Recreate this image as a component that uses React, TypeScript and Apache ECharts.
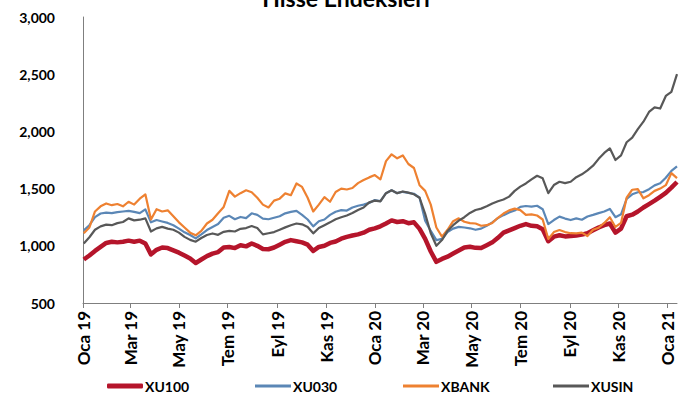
import React, { useEffect, useRef } from "react";
import * as echarts from "echarts";

const TITLE = "Hisse Endeksleri";
const MONTHS_TR = ["Oca", "Şub", "Mar", "Nis", "May", "Haz", "Tem", "Ağu", "Eyl", "Eki", "Kas", "Ara"];
const AXIS_START = "2019-01-01";
const AXIS_END = "2021-01-13";
const TICK_DATES = [
  "2019-01-01", "2019-03-01", "2019-05-01", "2019-07-01", "2019-09-01", "2019-11-01",
  "2020-01-01", "2020-03-01", "2020-05-01", "2020-07-01", "2020-09-01", "2020-11-01",
  "2021-01-01",
];
const FIRST_OBS = "2019-01-02"; // weekly observations from this date
const STEP_DAYS = 7;

const SERIES_NAMES = ["XU100", "XU030", "XBANK", "XUSIN"];

const xu100 = [
  880, 915, 955, 990, 1025, 1035, 1030, 1035, 1045, 1035, 1045, 1020, 925, 965, 985, 980, 960, 940, 915, 890,
  850, 880, 910, 932, 945, 985, 990, 980, 1005, 995, 1020, 1000, 972, 970, 985, 1010, 1035, 1050, 1040, 1030,
  1010, 955, 990, 1000, 1025, 1038, 1062, 1078, 1090, 1100, 1115, 1140, 1152, 1170, 1195, 1222, 1208, 1215, 1198, 1205,
  1148, 1060, 950, 860, 885, 905, 932, 958, 985, 992, 982, 980, 1005, 1030, 1070, 1115, 1135, 1155, 1175, 1190,
  1175, 1170, 1145, 1040, 1080, 1092, 1082, 1085, 1090, 1098, 1110, 1135, 1160, 1180, 1195, 1115, 1150, 1258, 1272, 1300,
  1335, 1365, 1395, 1428, 1462, 1508, 1558,
];
const xu030 = [
  1135, 1180, 1250, 1282, 1290, 1285, 1295, 1300, 1305, 1296, 1285, 1318, 1205, 1225, 1212, 1200, 1180, 1150, 1118, 1094,
  1065, 1100, 1138, 1165, 1190, 1245, 1262, 1232, 1252, 1242, 1284, 1270, 1238, 1232, 1245, 1258, 1284, 1296, 1305, 1270,
  1230, 1170, 1215, 1230, 1270, 1298, 1312, 1308, 1335, 1350, 1360, 1375, 1400, 1390, 1460, 1485, 1460, 1472, 1462, 1455,
  1420, 1220, 1130, 1050, 1060, 1120, 1150, 1165, 1160, 1153, 1140, 1150, 1175, 1205, 1242, 1268, 1292, 1308, 1340, 1348,
  1342, 1350, 1320, 1190, 1225, 1255, 1238, 1225, 1240, 1228, 1256, 1270, 1286, 1300, 1322, 1250, 1275, 1410, 1450, 1468,
  1470, 1495, 1528, 1546, 1595, 1655, 1695,
];
const xbank = [
  1110, 1160, 1300, 1345, 1370, 1355, 1365, 1345, 1385, 1360, 1412, 1450, 1230, 1320, 1300, 1310, 1258, 1205, 1160, 1115,
  1092, 1130, 1195, 1228, 1285, 1340, 1480, 1430, 1460, 1485, 1468, 1420, 1360, 1335, 1395, 1412, 1458, 1442, 1545, 1515,
  1420, 1300, 1360, 1425, 1385, 1470, 1500, 1492, 1505, 1548, 1575, 1598, 1618, 1580, 1740, 1800, 1765, 1790, 1715, 1680,
  1530, 1480, 1360, 1160, 1080, 1140, 1215, 1240, 1210, 1198, 1195, 1175, 1180, 1200, 1245, 1282, 1310, 1325, 1312, 1270,
  1275, 1265, 1230, 1060, 1120, 1138, 1120, 1110, 1108, 1115, 1085, 1140, 1158, 1200, 1250, 1165, 1200, 1420, 1490, 1495,
  1415, 1442, 1480, 1500, 1530, 1635, 1592,
];
const xusin = [
  1020, 1075, 1140, 1170, 1185, 1180, 1198, 1208, 1240, 1222, 1228, 1240, 1125, 1152, 1165, 1150, 1140, 1115, 1078, 1052,
  1036, 1068, 1094, 1108, 1096, 1122, 1130, 1125, 1148, 1155, 1173, 1155, 1100, 1110, 1120, 1140, 1161, 1180, 1195, 1188,
  1165, 1109, 1155, 1180, 1205, 1232, 1250, 1265, 1286, 1313, 1335, 1380, 1395, 1388, 1460, 1485, 1460, 1475, 1465, 1450,
  1420, 1280, 1110, 1000, 1050, 1130, 1180, 1220, 1250, 1287, 1313, 1325, 1345, 1370, 1390, 1405, 1430, 1480, 1517, 1545,
  1580, 1612, 1590, 1460, 1531, 1560, 1548, 1560, 1600, 1625, 1660, 1700, 1760, 1812, 1852, 1750, 1790, 1905, 1945, 2020,
  2085, 2170, 2210, 2200, 2310, 2345, 2500,
];

const COLORS = ["#B5152B", "#5B87B6", "#EE8131", "#585858"];
const WIDTHS = [4.5, 2.2, 2.2, 2.2];

const dayIndex = (s: string) =>
  Math.round((Date.parse(s + "T00:00:00Z") - Date.parse(AXIS_START + "T00:00:00Z")) / 86400000);

const fmtDay = (d: number) => {
  const t = new Date(Date.parse(AXIS_START + "T00:00:00Z") + Math.round(d) * 86400000);
  return MONTHS_TR[t.getUTCMonth()] + " " + String(t.getUTCFullYear()).slice(2);
};

export default function App() {
  const ref = useRef<HTMLDivElement>(null);
  useEffect(() => {
    if (!ref.current) return;
    const chart = echarts.init(ref.current, null, { renderer: "svg" });
    const first = dayIndex(FIRST_OBS);
    const days = xu100.map((_, i) => first + i * STEP_DAYS);
    const tickDays = TICK_DATES.map(dayIndex);
    const all = [xu100, xu030, xbank, xusin];
    const font = "Lato, 'Noto Sans', sans-serif";
    const legendLefts = [107, 255, 403, 553];

    chart.setOption({
      animation: false,
      backgroundColor: "#ffffff",
      graphic: [
        {
          type: "text",
          left: "center",
          top: -14,
          style: {
            text: TITLE,
            font: "bold 23px " + font,
            fill: "#000",
          },
        },
      ],
      grid: { left: 83, right: 15, top: 17, bottom: 98, containLabel: false },
      xAxis: {
        type: "value",
        min: 0,
        max: dayIndex(AXIS_END),
        splitLine: { show: false },
        axisLine: { show: true, lineStyle: { color: "#7f7f7f", width: 1 } },
        axisTick: { show: true, customValues: tickDays, length: 5, lineStyle: { color: "#7f7f7f" } },
        axisLabel: {
          customValues: tickDays,
          rotate: 90,
          margin: 8,
          formatter: (v: number) => fmtDay(v),
          fontFamily: font,
          fontWeight: "bold",
          fontSize: 17,
          color: "#000",
        },
      },
      yAxis: {
        type: "value",
        min: 500,
        max: 3000,
        interval: 500,
        splitLine: { show: false },
        axisLine: { show: true, lineStyle: { color: "#7f7f7f", width: 1 } },
        axisTick: { show: false },
        axisLabel: {
          margin: 28,
          formatter: (v: number) => v.toLocaleString("en-US"),
          fontFamily: font,
          fontWeight: "bold",
          fontSize: 14,
          color: "#000",
        },
      },
      legend: SERIES_NAMES.map((n, i) => ({
        data: [n],
        left: legendLefts[i],
        top: 379,
        padding: 0,
        icon: i === 0 ? "roundRect" : "rect",
        itemWidth: 36,
        itemHeight: i === 0 ? 5 : 3,
        itemGap: 0,
        textStyle: { fontFamily: font, fontWeight: "bold", fontSize: 14, color: "#000", padding: [0, 0, 0, -3] },
      })),
      series: SERIES_NAMES.map((n, i) => ({
        name: n,
        type: "line",
        showSymbol: false,
        symbol: "none",
        color: COLORS[i],
        lineStyle: { color: COLORS[i], width: WIDTHS[i], join: "round" },
        data: days.map((d, k) => [d, all[i][k]]),
        z: 2 + i,
      })),
    });
    return () => chart.dispose();
  }, []);
  return (
    <div
      ref={ref}
      style={{ position: "fixed", left: 0, top: 0, width: 692, height: 401, background: "#fff" }}
    />
  );
}
